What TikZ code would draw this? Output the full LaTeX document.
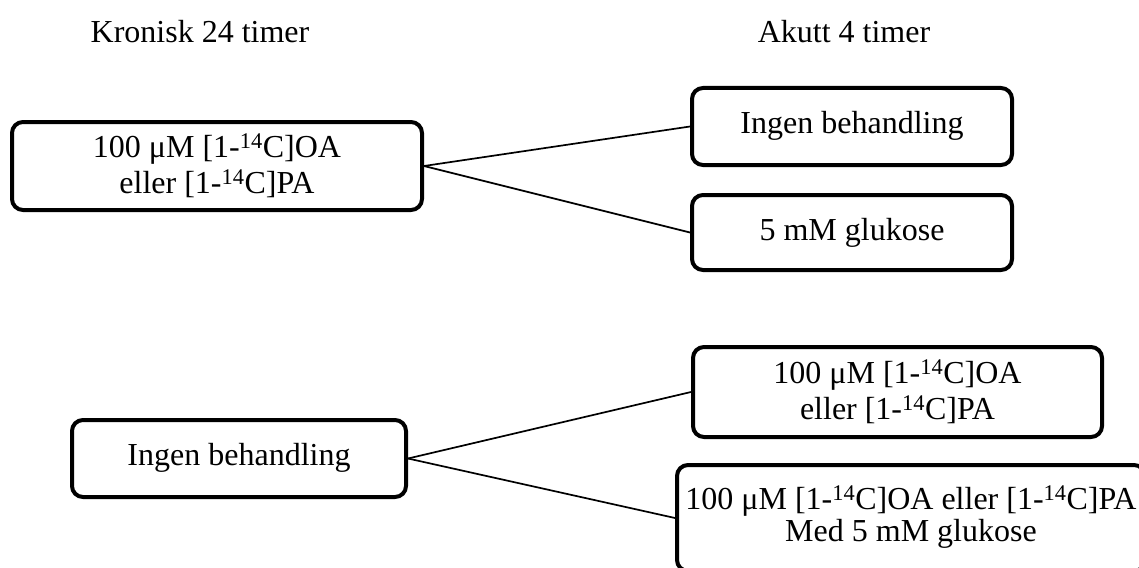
\documentclass[tikz,border=0pt]{standalone}
\usepackage{fontspec}
\setmainfont{Liberation Serif}
\begin{document}
\begin{tikzpicture}[x=1pt,y=-1pt,
  box/.style={draw=black, line width=4pt, rounded corners=11pt, inner sep=0pt,
    align=center, font=\fontsize{32}{36}\selectfont},
  head/.style={inner sep=0pt, font=\fontsize{32}{36}\selectfont},
  conn/.style={draw=black, line width=1.7pt}]
\useasboundingbox (0,0) rectangle (1139,567);
\fill[white] (0,0) rectangle (1139,567);
\node[head] (h1) at (200,32) {Kronisk 24 timer};
\node[head] (h2) at (844,32) {Akutt 4 timer};
\node[box, minimum width=410pt, minimum height=88pt] (A) at (217,166)
  {100 μM [1-\textsuperscript{14}C]OA\\eller [1-\textsuperscript{14}C]PA};
\node[box, minimum width=320pt, minimum height=77pt] (B) at (852,126.5)
  {\raisebox{9pt}{Ingen behandling}};
\node[box, minimum width=320pt, minimum height=75pt] (C) at (852,232.5)
  {\raisebox{5pt}{5 mM glukose}};
\node[box, minimum width=334pt, minimum height=77pt] (D) at (239,458.5)
  {\raisebox{8pt}{Ingen behandling}};
\node[box, minimum width=409pt, minimum height=90pt] (E) at (897.5,392)
  {100 μM [1-\textsuperscript{14}C]OA\\eller [1-\textsuperscript{14}C]PA};
\node[box, minimum width=468pt, minimum height=106pt] (F) at (911,518)
  {\raisebox{8pt}{100 μM [1-\textsuperscript{14}C]OA eller [1-\textsuperscript{14}C]PA}\\[-4pt]\raisebox{8pt}{Med 5 mM glukose}};
\draw[conn] (A.east) -- (B.west);
\draw[conn] (A.east) -- (C.west);
\draw[conn] (D.east) -- (E.west);
\draw[conn] (D.east) -- (F.west);
\end{tikzpicture}
\end{document}
